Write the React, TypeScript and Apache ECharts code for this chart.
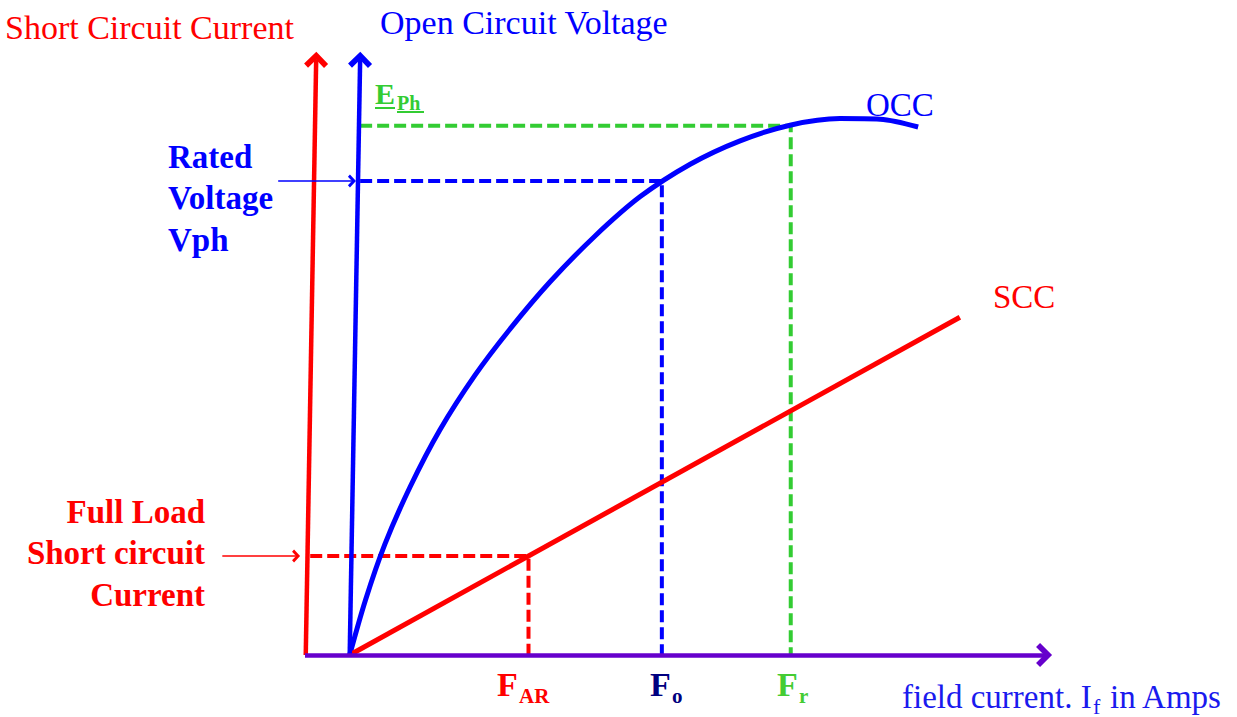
import React, { useEffect, useRef } from "react";
import * as echarts from "echarts";

// ---- data (arbitrary field-current / EMF units) ----
const occX = [0.6, 0.81, 1.07, 1.41, 1.81, 2.28, 2.75, 3.29, 3.89, 4.5, 5.17, 5.84, 6.51, 7.18, 7.72, 8.23];
const occY = [0, 0.91, 1.84, 2.8, 3.75, 4.66, 5.43, 6.22, 6.98, 7.64, 8.18, 8.57, 8.83, 8.94, 8.93, 8.8];
const sccX = [0.6, 8.79];
const sccY = [0, 5.63];

const F_AR = 3.0;
const F_O = 4.79;
const F_R = 6.52;
const V_RATED = 7.9;
const E_PH = 8.82;
const I_FL = 1.65;

const BLUE_AXIS_X = 0.74;
const RED_AXIS_X = 0.07;

// axis lines
const redAxis = [[0.01, 0], [0.15, 9.92]];
const blueAxis = [[0.6, 0], [0.74, 9.92]];
const fieldAxis = [[0, 0], [9.92, 0]];
const blueHint = [[-0.36, V_RATED], [0.63, V_RATED]];
const redHint = [[-1.11, I_FL], [-0.12, I_FL]];

const FONT = "'Liberation Serif', 'Times New Roman', serif";
const RED = "#ff0000";
const BLUE = "#0000ff";
const GREEN = "#33cc33";
const PURPLE = "#6600cc";

const CHEVRON = "path://M12,0 L24,12 L20,16 L12,8 L4,16 L0,12 Z";

const zip = (xs: number[], ys: number[]) => xs.map((x, i) => [x, ys[i]]);

const seg = (pts: number[][], color: string, width: number) => [
  { coord: pts[0], lineStyle: { color, width, type: "solid" } },
  { coord: pts[1] },
];

const txt = (
  text: string,
  x: number,
  y: number,
  color: string,
  size: number,
  bold = false,
  align = "left"
) => ({
  type: "text",
  x,
  y,
  silent: true,
  style: {
    text,
    fill: color,
    fontSize: size,
    fontWeight: bold ? "bold" : "normal",
    fontFamily: FONT,
    align,
    verticalAlign: "middle",
  },
});

const uline = (x1: number, x2: number, y: number, color: string) => ({
  type: "line",
  silent: true,
  shape: { x1, y1: y, x2, y2: y },
  style: { stroke: color, lineWidth: 2 },
});

const dashed = (data: number[][], color: string) => ({
  type: "line",
  data,
  symbol: "none",
  clip: false,
  silent: true,
  lineStyle: { color, width: 4, type: [12, 5] },
  z: 3,
});

export default function App() {
  const ref = useRef<HTMLDivElement>(null);
  useEffect(() => {
    const chart = echarts.init(ref.current!, null, { renderer: "svg" });
    const option: any = {
      animation: false,
      backgroundColor: "#ffffff",
      grid: { left: 7, top: 25, width: 1043, height: 660, containLabel: false },
      xAxis: { type: "value", min: -4, max: 10, show: false },
      yAxis: { type: "value", min: -0.5, max: 10.5, show: false },
      series: [
        dashed([[BLUE_AXIS_X, E_PH], [F_R, E_PH], [F_R, 0]], GREEN),
        dashed([[BLUE_AXIS_X, V_RATED], [F_O, V_RATED], [F_O, 0]], BLUE),
        dashed([[RED_AXIS_X, I_FL], [F_AR, I_FL], [F_AR, 0]], RED),
        {
          name: "OCC",
          type: "line",
          data: zip(occX, occY),
          smooth: 0.3,
          symbol: "none",
          clip: false,
          silent: true,
          lineStyle: { color: BLUE, width: 5 },
          z: 4,
        },
        {
          name: "SCC",
          type: "line",
          data: zip(sccX, sccY),
          symbol: "none",
          clip: false,
          silent: true,
          lineStyle: { color: RED, width: 5 },
          z: 4,
        },
        {
          name: "axes",
          type: "line",
          data: [],
          clip: false,
          silent: true,
          z: 5,
          markLine: {
            silent: true,
            animation: false,
            symbol: ["none", CHEVRON],
            symbolSize: [24, 16],
            label: { show: false },
            emphasis: { disabled: true },
            data: [
              seg(redAxis, RED, 4.5),
              seg(blueAxis, BLUE, 4.5),
              seg(fieldAxis, PURPLE, 4.5),
            ],
          },
        },
        {
          name: "hints",
          type: "line",
          data: [],
          clip: false,
          silent: true,
          z: 5,
          markLine: {
            silent: true,
            animation: false,
            symbol: ["none", CHEVRON],
            symbolSize: [13, 8],
            label: { show: false },
            emphasis: { disabled: true },
            data: [seg(blueHint, BLUE, 1.5), seg(redHint, RED, 1.5)],
          },
        },
      ],
      graphic: [
        txt("Short Circuit Current", 5, 27, RED, 34),
        txt("Open Circuit Voltage", 380, 22, BLUE, 34),
        txt("E", 375, 93, GREEN, 30, true),
        txt("Ph", 397, 103, GREEN, 20, true),
        uline(375, 395, 108, GREEN),
        uline(397, 424, 112, GREEN),
        txt("Rated", 168, 157, BLUE, 33, true),
        txt("Voltage", 168, 198, BLUE, 33, true),
        txt("Vph", 168, 240, BLUE, 33, true),
        txt("Full Load", 205, 512, RED, 33, true, "right"),
        txt("Short circuit", 205, 553, RED, 33, true, "right"),
        txt("Current", 205, 595, RED, 33, true, "right"),
        txt("OCC", 866, 105, BLUE, 33),
        txt("SCC", 993, 297, RED, 33),
        txt("F", 497, 684, RED, 34, true),
        txt("AR", 519, 696, RED, 21, true),
        txt("F", 650, 684, "#000080", 34, true),
        txt("o", 672, 696, "#000080", 21, true),
        txt("F", 777, 684, "#44cc33", 34, true),
        txt("r", 799, 696, "#44cc33", 21, true),
        txt("field current. I", 902, 697, "#1a1aee", 33),
        txt("f", 1093, 706, "#1a1aee", 22),
        txt("in Amps", 1110, 697, "#1a1aee", 33),
      ],
    };
    chart.setOption(option);
    return () => chart.dispose();
  }, []);
  return (
    <div
      ref={ref}
      style={{ position: "fixed", left: 0, top: 0, width: 1237, height: 717, background: "#fff" }}
    />
  );
}
